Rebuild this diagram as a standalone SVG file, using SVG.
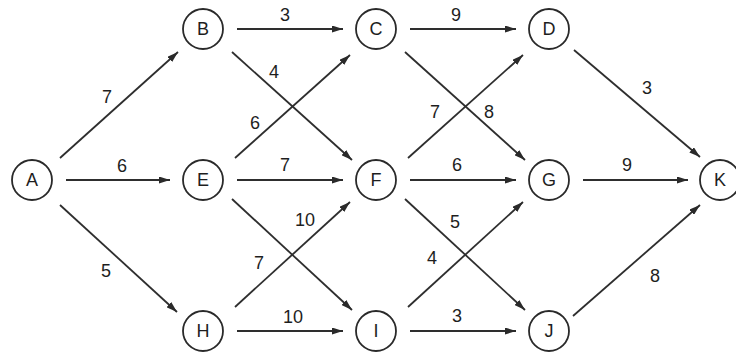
<svg xmlns="http://www.w3.org/2000/svg" width="736" height="356" viewBox="0 0 736 356">
<defs>
<marker id="ah" markerUnits="userSpaceOnUse" markerWidth="12" markerHeight="7" refX="11" refY="3.5" orient="auto">
<path d="M0,0 L11,3.5 L0,7 z" fill="#2a2a2a"/>
</marker>
<style>
.n circle{fill:#fff;stroke:#2a2a2a;stroke-width:1.8}
.n text,.lb{font-family:"Liberation Sans",Arial,sans-serif;font-size:18px;fill:#1e1e1e;text-anchor:middle;dominant-baseline:central}
#edges line{stroke:#2e2e2e;stroke-width:1.8;marker-end:url(#ah)}
</style>
</defs>
<rect width="736" height="356" fill="#fff"/>
<g id="edges">
<line x1="60" y1="158" x2="178" y2="52"/>
<line x1="66" y1="180" x2="170" y2="180"/>
<line x1="60" y1="205" x2="177" y2="312"/>
<line x1="237" y1="29" x2="343" y2="29"/>
<line x1="232" y1="52" x2="352" y2="160"/>
<line x1="235" y1="158" x2="350" y2="55"/>
<line x1="237" y1="180" x2="343" y2="180"/>
<line x1="232" y1="199" x2="352" y2="310"/>
<line x1="235" y1="307" x2="350" y2="202"/>
<line x1="237" y1="331" x2="343" y2="331"/>
<line x1="410" y1="29" x2="516" y2="29"/>
<line x1="405" y1="52" x2="525" y2="160"/>
<line x1="408" y1="158" x2="523" y2="55"/>
<line x1="410" y1="180" x2="516" y2="180"/>
<line x1="405" y1="199" x2="525" y2="310"/>
<line x1="408" y1="307" x2="523" y2="202"/>
<line x1="410" y1="331" x2="516" y2="331"/>
<line x1="574" y1="50" x2="700" y2="157"/>
<line x1="583" y1="180" x2="688" y2="180"/>
<line x1="573" y1="316" x2="700" y2="205"/>
</g>
<g id="labels">
<text class="lb" x="107" y="97">7</text>
<text class="lb" x="122" y="166">6</text>
<text class="lb" x="106" y="271">5</text>
<text class="lb" x="285" y="15">3</text>
<text class="lb" x="274" y="72">4</text>
<text class="lb" x="255" y="123">6</text>
<text class="lb" x="285" y="165">7</text>
<text class="lb" x="305" y="220">10</text>
<text class="lb" x="259" y="263">7</text>
<text class="lb" x="293" y="317">10</text>
<text class="lb" x="456" y="15">9</text>
<text class="lb" x="435" y="112">7</text>
<text class="lb" x="489" y="112">8</text>
<text class="lb" x="457" y="165">6</text>
<text class="lb" x="455" y="222">5</text>
<text class="lb" x="432" y="258">4</text>
<text class="lb" x="457" y="316">3</text>
<text class="lb" x="647" y="88">3</text>
<text class="lb" x="627" y="165">9</text>
<text class="lb" x="655" y="276">8</text>
</g>
<g id="A" class="n"><circle cx="32" cy="180" r="20"/><text x="32" y="180">A</text></g>
<g id="B" class="n"><circle cx="203" cy="29" r="20"/><text x="203" y="29">B</text></g>
<g id="C" class="n"><circle cx="376" cy="29" r="20"/><text x="376" y="29">C</text></g>
<g id="D" class="n"><circle cx="549" cy="29" r="20"/><text x="549" y="29">D</text></g>
<g id="E" class="n"><circle cx="203" cy="180" r="20"/><text x="203" y="180">E</text></g>
<g id="F" class="n"><circle cx="376" cy="180" r="20"/><text x="376" y="180">F</text></g>
<g id="G" class="n"><circle cx="549" cy="180" r="20"/><text x="549" y="180">G</text></g>
<g id="H" class="n"><circle cx="203" cy="331" r="20"/><text x="203" y="331">H</text></g>
<g id="I" class="n"><circle cx="376" cy="331" r="20"/><text x="376" y="331">I</text></g>
<g id="J" class="n"><circle cx="549" cy="331" r="20"/><text x="549" y="331">J</text></g>
<g id="K" class="n"><circle cx="720" cy="180" r="20"/><text x="720" y="180">K</text></g>
</svg>
